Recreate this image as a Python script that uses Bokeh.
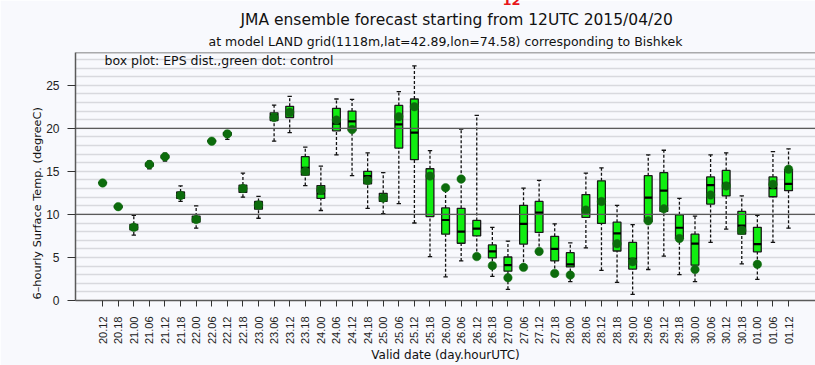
import math
from bokeh.plotting import figure
from bokeh.models import (FixedTicker, SingleIntervalTicker, Grid, Span, Label,
                          Title, ColumnDataSource)
from bokeh.embed import file_html
from bokeh.resources import INLINE

# valid times (day.hourUTC)
dates = ["20.12", "20.18", "21.00", "21.06", "21.12", "21.18", "22.00", "22.06",
         "22.12", "22.18", "23.00", "23.06", "23.12", "23.18", "24.00", "24.06",
         "24.12", "24.18", "25.00", "25.06", "25.12", "25.18", "26.00", "26.06",
         "26.12", "26.18", "27.00", "27.06", "27.12", "27.18", "28.00", "28.06",
         "28.12", "28.18", "29.00", "29.06", "29.12", "29.18", "30.00", "30.06",
         "30.12", "30.18", "01.00", "01.06", "01.12"]

# EPS distribution per valid time (degC)
whisker_lo = [13.6, 10.7, 7.6, 15.3, 16.2, 11.5, 8.4, 18.3, 18.7, 12.0, 9.55, 18.5,
              19.5, 13.35, 10.45, 16.9, 14.5, 10.7, 10.1, 11.25, 9.0, 5.1, 2.75, 4.6,
              5.1, 2.8, 1.3, 3.85, 5.7, 3.15, 2.2, 6.1, 3.5, 2.1, 0.7, 3.6,
              5.15, 3.0, 2.2, 6.75, 8.3, 4.25, 2.45, 6.75, 8.4]
q1 = [13.65, 10.8, 8.2, 15.6, 16.55, 11.85, 9.1, 18.45, 19.2, 12.55, 10.6, 20.9,
      21.25, 14.55, 11.85, 19.7, 19.75, 13.55, 11.5, 17.7, 16.35, 9.75, 7.7, 6.65,
      7.5, 4.95, 3.4, 6.55, 7.9, 4.6, 3.9, 9.65, 8.95, 5.75, 3.65, 9.15,
      10.35, 7.2, 4.1, 11.2, 12.15, 7.7, 5.65, 12.05, 12.75]
median = [13.65, 10.9, 8.5, 15.8, 16.7, 12.2, 9.45, 18.5, 19.35, 13.0, 11.1, 21.5,
          21.85, 15.4, 12.45, 20.55, 20.8, 14.45, 12.0, 20.45, 19.5, 14.3, 9.35, 8.0,
          8.35, 5.7, 4.1, 8.9, 10.2, 6.0, 4.2, 10.5, 11.5, 7.8, 4.85, 11.95,
          12.75, 8.45, 6.6, 13.4, 13.55, 8.7, 6.55, 13.05, 13.55]
q3 = [13.7, 11.0, 8.85, 15.95, 16.85, 12.6, 9.8, 18.6, 19.5, 13.4, 11.5, 21.8,
      22.55, 16.7, 13.35, 22.3, 22.0, 15.0, 12.45, 22.65, 23.4, 15.3, 10.75, 10.7,
      9.3, 6.45, 5.05, 11.05, 11.5, 7.45, 5.55, 12.3, 13.9, 9.1, 6.75, 14.5,
      14.85, 9.95, 7.7, 14.35, 15.1, 10.35, 8.5, 14.35, 15.2]
whisker_hi = [13.75, 11.1, 9.9, 16.2, 17.1, 13.3, 11.0, 18.7, 19.7, 14.8, 12.1, 22.7,
              23.7, 17.8, 15.6, 23.4, 23.35, 17.15, 14.85, 24.25, 27.25, 17.4, 13.1, 19.9,
              21.5, 8.5, 6.9, 13.05, 13.95, 8.9, 6.7, 14.8, 15.4, 11.05, 8.8, 16.9,
              17.45, 11.85, 9.8, 16.9, 17.15, 12.15, 9.9, 17.3, 17.6]
# control run
control = [13.65, 10.9, 8.5, 15.8, 16.7, 12.2, 9.4, 18.5, 19.35, 13.0, 11.1, 21.25,
           21.85, 15.0, 12.8, 20.95, 19.85, 13.95, 11.9, 21.35, 22.5, 14.45, 13.1, 14.1,
           5.1, 4.05, 2.65, 3.85, 5.7, 3.15, 2.95, 10.5, 11.5, 6.6, 4.5, 9.25,
           10.65, 7.2, 3.6, 12.25, 13.3, 8.15, 4.2, 13.5, 15.25]

y_ticks = [0, 5, 10, 15, 20, 25]

W, H = 815, 365
FL, FR, FT, FB = 75, 815, 49, 301     # plot frame edges in canvas pixels
BOX_HALF = 0.25
CAP_HALF = 0.14
BG = "#f8f9fd"
FONT = "Liberation Sans"
WIDE = "DejaVu Sans"

xs = list(range(len(dates)))
src = ColumnDataSource(dict(
    x=xs, lo=whisker_lo, q1=q1, med=median, q3=q3, hi=whisker_hi, ctrl=control,
    xl=[x - BOX_HALF for x in xs], xr=[x + BOX_HALF for x in xs],
    cl=[x - CAP_HALF for x in xs], cr=[x + CAP_HALF for x in xs],
))

p = figure(width=W, height=H, x_range=(-1.74, 45.73), y_range=(0, 28.8),
           output_backend="svg", toolbar_location=None,
           min_border_left=FL, min_border_right=W - FR,
           min_border_top=FT, min_border_bottom=H - FB)
p.background_fill_color = BG
p.border_fill_color = BG
p.outline_line_color = None
p.xgrid.visible = False
p.ygrid.visible = False

# titles stacked above the frame (first added sits nearest the frame)
p.add_layout(Title(text="at model LAND grid(1118m,lat=42.89,lon=74.58) corresponding to Bishkek",
                   align="center", text_font=WIDE, text_font_size="12.5px",
                   text_font_style="normal", text_color="#111111", standoff=8), "above")
p.add_layout(Title(text="JMA ensemble forecast starting from 12UTC 2015/04/20",
                   align="left", offset=165, text_font=WIDE, text_font_size="15.5px",
                   text_font_style="normal", text_color="#111111", standoff=-2), "above")
p.add_layout(Label(x=427, y=9, x_units="screen", y_units="screen", text="12",
                   text_font=WIDE, text_font_size="13px", text_font_style="bold",
                   text_color="#e8161b", text_baseline="alphabetic"), "above")

# y axis title on the left, starting at the bottom of the frame
p.add_layout(Title(text="6–hourly Surface Temp. (degreeC)", align="left", offset=1,
                   text_font=WIDE, text_font_size="11.3px", text_font_style="normal",
                   text_color="#111111", standoff=0), "left")

# light 1-degree grid lines and darker lines every 10 degrees
p.add_layout(Grid(dimension=1, ticker=SingleIntervalTicker(interval=1),
                  grid_line_color="#d8d9de", grid_line_width=1.5))
for lvl in (10, 20):
    p.add_layout(Span(location=lvl, dimension="width", line_color="#5a5a5a",
                      line_width=1.3))
p.add_layout(Span(location=28.8, dimension="width", line_color="#5a5a5a",
                  line_width=1.5))

# x axis
p.xaxis.ticker = FixedTicker(ticks=xs)
p.xaxis.major_label_overrides = {i: d for i, d in enumerate(dates)}
p.xaxis.major_label_orientation = math.pi / 2
p.xaxis.major_tick_in = 0
p.xaxis.major_tick_out = 6
p.xaxis.minor_tick_line_color = None
p.xaxis.major_label_standoff = 10
p.xaxis.major_label_text_font = FONT
p.xaxis.major_label_text_font_size = "11px"
p.xaxis.major_label_text_color = "#222222"
p.xaxis.axis_line_color = "#5a5a5a"
p.xaxis.axis_line_width = 1.5
p.xaxis.major_tick_line_color = "#333333"
p.xaxis.axis_label = "Valid date (day.hourUTC)"
p.xaxis.axis_label_standoff = 1
p.xaxis.axis_label_text_font = WIDE
p.xaxis.axis_label_text_font_size = "12px"
p.xaxis.axis_label_text_font_style = "normal"
p.xaxis.axis_label_text_color = "#111111"

# y axis
p.yaxis.ticker = FixedTicker(ticks=y_ticks)
p.yaxis.major_tick_in = 0
p.yaxis.major_tick_out = 8
p.yaxis.minor_tick_line_color = None
p.yaxis.major_label_standoff = 8
p.yaxis.major_label_text_font = FONT
p.yaxis.major_label_text_font_size = "12px"
p.yaxis.major_label_text_color = "#222222"
p.yaxis.axis_line_color = "#5a5a5a"
p.yaxis.axis_line_width = 1.5
p.yaxis.major_tick_line_color = "#333333"

# whiskers (dotted) with small caps
p.segment(x0="x", y0="q3", x1="x", y1="hi", source=src, line_color="#111111",
          line_width=1.3, line_dash="3 2")
p.segment(x0="x", y0="lo", x1="x", y1="q1", source=src, line_color="#111111",
          line_width=1.3, line_dash="3 2")
p.segment(x0="cl", y0="hi", x1="cr", y1="hi", source=src, line_color="#111111",
          line_width=1.3)
p.segment(x0="cl", y0="lo", x1="cr", y1="lo", source=src, line_color="#111111",
          line_width=1.3)

# boxes and medians
p.vbar(x="x", bottom="q1", top="q3", width=2 * BOX_HALF, source=src,
       fill_color="#10ee10", line_color="#1a1a1a", line_width=1.3)
p.segment(x0="xl", y0="med", x1="xr", y1="med", source=src, line_color="#000000",
          line_width=2.2)

# control member
p.scatter(x="x", y="ctrl", source=src, size=8.5, fill_color="#0c6c0c",
          line_color="#0c6c0c", line_width=0.5)

# legend note inside the frame
p.add_layout(Label(x=104 - FL, y=FB - 61, x_units="screen", y_units="screen",
                   text="box plot: EPS dist.,green dot: control", text_font=WIDE,
                   text_font_size="12.5px", text_align="left", text_baseline="middle",
                   text_color="#111111"))

open("out.html", "w").write(file_html(p, INLINE))
